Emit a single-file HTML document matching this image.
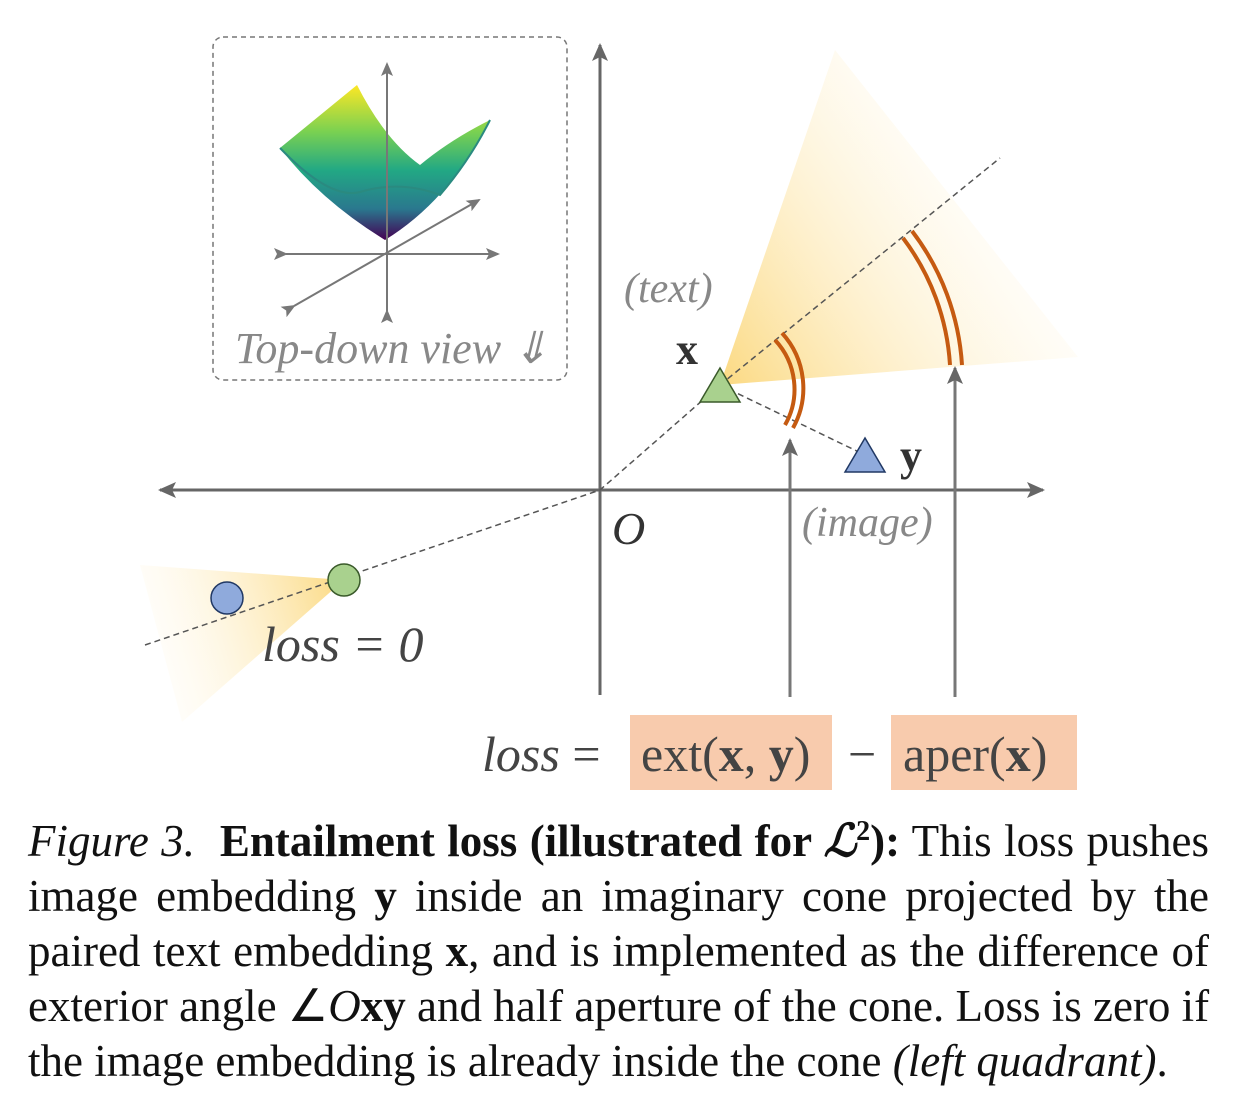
<!DOCTYPE html>
<html><head><meta charset="utf-8">
<style>
html,body{margin:0;padding:0;background:#fff;}
body{width:1253px;height:1097px;position:relative;overflow:hidden;font-family:"Liberation Serif",serif;}
svg{position:absolute;left:0;top:0;}
.cap{position:absolute;left:28px;width:1181px;font-size:45px;line-height:55px;color:#111;}
.cap div{text-align:justify;text-align-last:justify;white-space:nowrap;height:55px;}
.cap div.last{text-align-last:left;}
sup{line-height:0;font-size:28px;}
</style></head><body>
<svg width="1253" height="800" viewBox="0 0 1253 800">
<defs>
<linearGradient id="cg" x1="720" y1="385" x2="1000" y2="200" gradientUnits="userSpaceOnUse">
<stop offset="0" stop-color="#fbd77a" stop-opacity="0.95"/><stop offset="1" stop-color="#fff8e6" stop-opacity="0.2"/></linearGradient>
<linearGradient id="lg" x1="344" y1="580" x2="150" y2="640" gradientUnits="userSpaceOnUse">
<stop offset="0" stop-color="#fbd77a" stop-opacity="0.95"/><stop offset="1" stop-color="#fff8e6" stop-opacity="0.2"/></linearGradient>
<linearGradient id="vg" x1="0" y1="0" x2="0" y2="1">
<stop offset="0" stop-color="#fde725"/><stop offset="0.3" stop-color="#7ad151"/><stop offset="0.55" stop-color="#22a884"/><stop offset="0.8" stop-color="#2a788e"/><stop offset="1" stop-color="#440154"/></linearGradient>
<marker id="ah" markerWidth="14" markerHeight="12" refX="12" refY="6" orient="auto" markerUnits="userSpaceOnUse"><path d="M0,0 L14,6 L0,12 L3,6 Z" fill="#777"/></marker>
<marker id="ah2" markerWidth="18" markerHeight="16" refX="16" refY="8" orient="auto" markerUnits="userSpaceOnUse"><path d="M0,0 L18,8 L0,16 L4,8 Z" fill="#666"/></marker>
</defs>
<g>
<rect x="213" y="37" width="354" height="343" rx="10" fill="none" stroke="#777" stroke-width="1.5" stroke-dasharray="5,4"/>
<path d="M280,148 L357,85 Q385,140 420,165 Q450,140 490,120 Q450,200 385,240 Q320,200 280,148 Z" fill="url(#vg)"/>
<path d="M280,148 Q330,200 360,192 Q400,180 440,195 Q470,160 490,120" fill="none" stroke="#2a8a80" stroke-width="2"/>
<line x1="286" y1="254" x2="498" y2="254" stroke="#777" stroke-width="2" marker-end="url(#ah)" marker-start="url(#ah)"/>
<line x1="387" y1="311" x2="387" y2="64" stroke="#777" stroke-width="2" marker-end="url(#ah)" marker-start="url(#ah)"/>
<line x1="294" y1="306" x2="479" y2="200" stroke="#777" stroke-width="2" marker-end="url(#ah)" marker-start="url(#ah)"/>
<text x="235" y="363" font-size="44" font-style="italic" fill="#888">Top-down view ⇓</text>
</g>
<polygon points="720,385 835,50 1078,357" fill="url(#cg)"/>
<polygon points="344,580 140,565 182,722" fill="url(#lg)"/>
<line x1="600" y1="490" x2="160" y2="490" stroke="#666" stroke-width="3" marker-end="url(#ah2)"/>
<line x1="600" y1="490" x2="1043" y2="490" stroke="#666" stroke-width="3" marker-end="url(#ah2)"/>
<line x1="600" y1="695" x2="600" y2="45" stroke="#666" stroke-width="3" marker-end="url(#ah2)"/>
<polyline points="145,645 600,490 720,385 1000,158" fill="none" stroke="#555" stroke-width="1.5" stroke-dasharray="6,4"/>
<line x1="720" y1="385" x2="865" y2="455" stroke="#555" stroke-width="1.5" stroke-dasharray="6,4"/>
<g fill="none" stroke="#c55a11" stroke-width="4">
<path d="M775,340 A72,72 0 0 1 785,425"/>
<path d="M782,333 A82,82 0 0 1 793,428"/>
<path d="M903,238 A234,234 0 0 1 950,365"/>
<path d="M912,231 A246,246 0 0 1 962,365"/>
</g>
<line x1="790" y1="697" x2="790" y2="440" stroke="#777" stroke-width="3" marker-end="url(#ah2)"/>
<line x1="955" y1="697" x2="955" y2="368" stroke="#777" stroke-width="3" marker-end="url(#ah2)"/>
<polygon points="720,368 700,402 740,402" fill="#a9d18e" stroke="#3a5a2a" stroke-width="1.5"/>
<polygon points="865,438 845,472 885,472" fill="#8faadc" stroke="#203864" stroke-width="1.5"/>
<circle cx="344" cy="580" r="16" fill="#a9d18e" stroke="#3a5a2a" stroke-width="1.5"/>
<circle cx="227" cy="598" r="16" fill="#8faadc" stroke="#203864" stroke-width="1.5"/>
<text x="624" y="302" font-size="42" font-style="italic" fill="#888">(text)</text>
<text x="676" y="364" font-size="44" font-weight="bold" fill="#333">x</text>
<text x="900" y="470" font-size="44" font-weight="bold" fill="#333">y</text>
<text x="612" y="544" font-size="46" font-style="italic" fill="#333">O</text>
<text x="802" y="536" font-size="42" font-style="italic" fill="#888">(image)</text>
<text x="262" y="661" font-size="50" font-style="italic" fill="#444">loss = 0</text>
<text x="482" y="771" font-size="50" fill="#444"><tspan font-style="italic">loss</tspan> =</text>
<rect x="630" y="715" width="202" height="75" fill="#f8cbad"/>
<text x="641" y="771" font-size="50" fill="#444">ext(<tspan font-weight="bold">x</tspan>, <tspan font-weight="bold">y</tspan>)</text>
<text x="848" y="771" font-size="50" fill="#444">−</text>
<rect x="891" y="715" width="186" height="75" fill="#f8cbad"/>
<text x="903" y="771" font-size="50" fill="#444">aper(<tspan font-weight="bold">x</tspan>)</text>
</svg>
<div class="cap" style="top:814px">
<div><i>Figure 3.</i>&nbsp; <b>Entailment loss (illustrated for <i>ℒ</i><sup>2</sup>):</b> This loss pushes</div>
<div>image embedding <b>y</b> inside an imaginary cone projected by the</div>
<div>paired text embedding <b>x</b>, and is implemented as the difference of</div>
<div>exterior angle ∠<i>O</i><b>xy</b> and half aperture of the cone. Loss is zero if</div>
<div class="last">the image embedding is already inside the cone <i>(left quadrant)</i>.</div>
</div>
</body></html>
